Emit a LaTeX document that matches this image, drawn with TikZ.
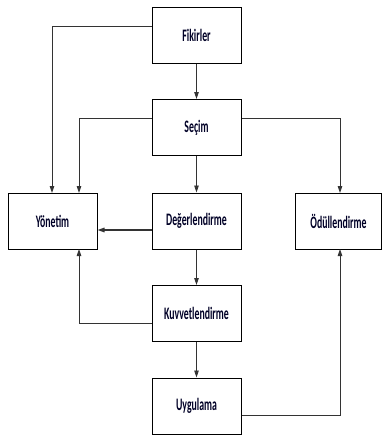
\documentclass[tikz,border=0pt]{standalone}
\usepackage{fontspec}
\setmainfont{Carlito}
\usetikzlibrary{arrows.meta}
\newcommand{\tallt}[1]{\scalebox{0.98}[1.75]{#1}}
\begin{document}
\begin{tikzpicture}[x=1pt,y=-1pt,
  box/.style={draw=black,line width=1pt,minimum width=89pt,minimum height=56pt,inner sep=0pt,font=\fontsize{10}{12}\selectfont\bfseries,text=black!85!blue},
  conn/.style={draw=black!80,line width=0.9pt,-{Triangle[length=7pt,width=4.5pt]}}]
\useasboundingbox (0,0) rectangle (382,439);
\node[box] (fik) at (196.5,35) {\tallt{Fikirler}};
\node[box] (sec) at (196.5,127.5) {\tallt{Seçim}};
\node[box] (yon) at (52.5,221) {\tallt{Yönetim}};
\node[box] (deg) at (196.5,221) {\tallt{Değerlendirme}};
\node[box,minimum width=86pt] (odu) at (338.5,221) {\tallt{Ödüllendirme}};
\node[box] (kuv) at (196.5,313.5) {\tallt{Kuvvetlendirme}};
\node[box] (uyg) at (196.5,406) {\tallt{Uygulama}};
\coordinate (y1) at (52,193);
\coordinate (y2) at (79,193);
\coordinate (y3) at (79,249);
\coordinate (o1) at (340,193);
\coordinate (o2) at (340,249);
\draw[conn] (fik) -- (sec);
\draw[conn] (sec) -- (deg);
\draw[conn] (deg) -- (kuv);
\draw[conn] (kuv) -- (uyg);
\draw[conn] (fik.west |- 0,26) -| (y1);
\draw[conn] (sec.west |- 0,118) -| (y2);
\draw[conn] (sec.east |- 0,118) -| (o1);
\draw[conn,line width=1.4pt] (deg.west |- 0,230) -- (yon.east |- 0,230);
\draw[conn] (kuv.west |- 0,323) -| (y3);
\draw[conn] (uyg.east |- 0,415) -| (o2);
\end{tikzpicture}
\end{document}
